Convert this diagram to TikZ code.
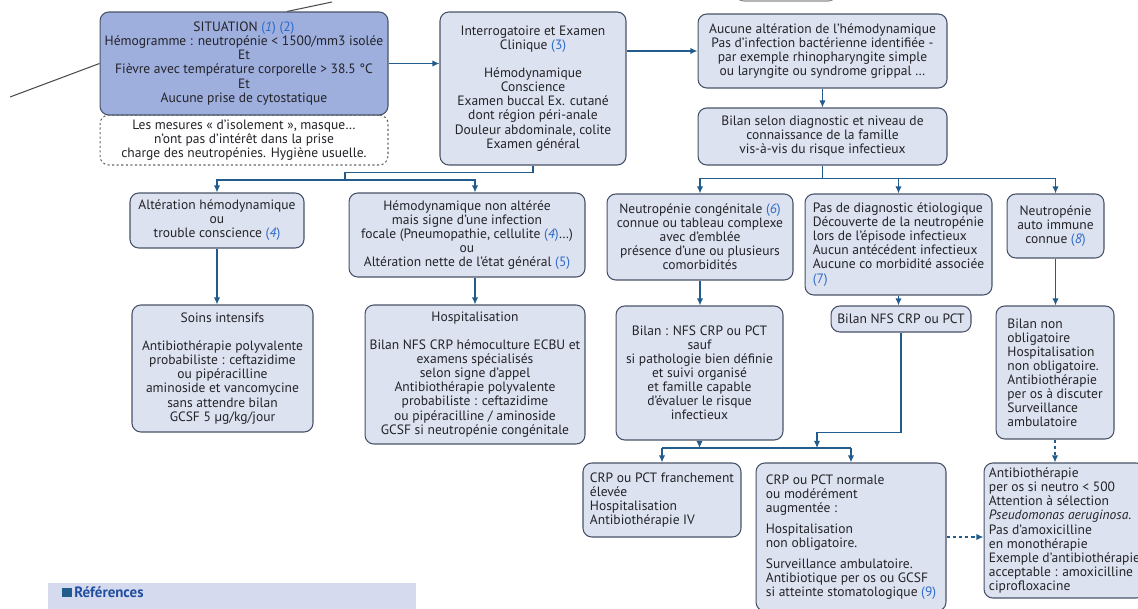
\documentclass[tikz,border=0pt]{standalone}
\usepackage{fontspec}
\setmainfont{PT Sans}
\usepackage{tikz}
\usetikzlibrary{arrows.meta,positioning}

\definecolor{boxfill}{RGB}{221,226,240}
\definecolor{sitfill}{RGB}{158,174,221}
\definecolor{boxline}{RGB}{72,82,104}
\definecolor{linkcol}{RGB}{33,92,140}
\definecolor{numblue}{RGB}{45,105,200}
\definecolor{reffill}{RGB}{214,218,238}
\definecolor{reftext}{RGB}{32,78,160}
\definecolor{textcol}{RGB}{35,35,40}

\newcommand{\refn}[1]{\textcolor{numblue}{(#1)}}
\newcommand{\refi}[1]{\textcolor{numblue}{(\textit{#1})}}
\newcommand{\boxfont}{\fontsize{7.7}{8}\selectfont}

\begin{document}
\begin{tikzpicture}[x=0.02cm, y=-0.02cm]
\tikzstyle{box} = [rectangle, draw=boxline, fill=boxfill, line width=0.6pt, rounded corners=5pt, align=center, inner sep=2pt, font=\boxfont, text=textcol];%
\tikzstyle{lbox} = [box, align=left];%
\tikzstyle{sitbox} = [box, fill=sitfill];%
\tikzstyle{notebox} = [box, fill=white, draw=black!60, dash pattern=on 1.2pt off 1.4pt];%
\tikzstyle{link} = [draw=linkcol, line width=0.8pt];%
\tikzstyle{arr} = [link, -{Latex[length=4pt,width=3.6pt]}];%
\tikzstyle{darr} = [arr, dash pattern=on 2pt off 1.5pt];%
\tikzstyle{stray} = [draw=black!70, line width=0.6pt];%

\fill[white] (0,0) rectangle (1138,608);
\useasboundingbox (0,0) rectangle (1138,608);

\node at (786,-14) [box, fill=white, draw=black!45, minimum width=2.04cm, minimum height=0.6cm] (topcut) {};
\node at (244,140) [notebox, minimum width=5.76cm, minimum height=1.00cm] (note) {Les mesures « d’isolement », masque…\\n’ont pas d’intérêt dans la prise\\charge des neutropénies. Hygiène usuelle.};
\node at (244,63.5) [sitbox, minimum width=5.76cm, minimum height=2.06cm] (sit) {SITUATION \refi{1} \refn{2}\\Hémogramme : neutropénie < 1500/mm3 isolée\\Et\\Fièvre avec température corporelle > 38.5 °C\\Et\\Aucune prise de cytostatique};
\node at (533,88.5) [box, minimum width=3.72cm, minimum height=3.06cm] (interro) {Interrogatoire et Examen\\Clinique \refn{3}\\[8pt]Hémodynamique\\Conscience\\Examen buccal Ex. cutané\\dont région péri-anale\\Douleur abdominale, colite\\Examen général};
\node at (822.5,51) [box, minimum width=4.98cm, minimum height=1.48cm] (aucune) {Aucune altération de l’hémodynamique\\Pas d’infection bactérienne identifiée -\\par exemple rhinopharyngite simple\\ou laryngite ou syndrome grippal …};
\node at (822.5,136.5) [box, minimum width=4.98cm, minimum height=1.14cm] (bilansel) {Bilan selon diagnostic et niveau de\\connaissance de la famille\\vis-à-vis du risque infectieux};

\node at (217,220.5) [box, minimum width=3.48cm, minimum height=1.10cm] (alt) {Altération hémodynamique\\ou\\trouble conscience \refi{4}};
\node at (467,235) [box, minimum width=4.72cm, minimum height=1.68cm] (hemo) {Hémodynamique non altérée\\mais signe d’une infection\\focale (Pneumopathie, cellulite \refi{4}…)\\ou\\Altération nette de l’état général \refn{5}};
\node at (222.5,368.5) [box, minimum width=3.62cm, minimum height=2.54cm] (soins) {Soins intensifs\\[8pt]Antibiothérapie polyvalente\\probabiliste : ceftazidime\\ou pipéracilline\\aminoside et vancomycine\\sans attendre bilan\\GCSF 5 µg/kg/jour};
\node at (475,374.5) [box, minimum width=4.40cm, minimum height=2.78cm] (hospit) {Hospitalisation\\[8pt]Bilan NFS CRP hémoculture ECBU et\\examens spécialisés\\selon signe d’appel\\Antibiothérapie polyvalente\\probabiliste : ceftazidime\\ou pipéracilline / aminoside\\GCSF si neutropénie congénitale};

\node at (700,237) [box, minimum width=3.72cm, minimum height=1.72cm] (congen) {Neutropénie congénitale \refi{6}\\connue ou tableau complexe\\avec d’emblée\\présence d’une ou plusieurs\\comorbidités};
\node at (898.5,244.5) [lbox, minimum width=3.74cm, minimum height=2.02cm] (pasdiag) {Pas de diagnostic étiologique\\Découverte de la neutropénie\\lors de l’épisode infectieux\\Aucun antécédent infectieux\\Aucune co morbidité associée\\\refn{7}};
\node at (1055.5,226) [box, minimum width=1.94cm, minimum height=1.28cm] (autoimm) {Neutropénie\\auto immune\\connue \refi{8}};

\node at (699.5,373) [box, minimum width=3.34cm, minimum height=2.68cm] (bilannfs1) {Bilan : NFS CRP ou PCT\\sauf\\si pathologie bien définie\\et suivi organisé\\et famille capable\\d’évaluer le risque\\infectieux};
\node at (901,319) [box, minimum width=2.80cm, minimum height=0.52cm] (bilannfs2) {Bilan NFS CRP ou PCT};
\node at (1055,372.5) [lbox, minimum width=2.36cm, minimum height=2.66cm] (bilannon) {Bilan non\\obligatoire\\Hospitalisation\\non obligatoire.\\Antibiothérapie\\per os à discuter\\Surveillance\\ambulatoire};

\node at (662,500) [lbox, minimum width=3.16cm, minimum height=1.48cm] (crpelev) {CRP ou PCT franchement\\élevée\\Hospitalisation\\Antibiothérapie IV};
\node at (851,537) [lbox, minimum width=3.80cm, minimum height=2.96cm] (crpnorm) {CRP ou PCT normale\\ou modérément\\augmentée :\\[4pt]Hospitalisation\\non obligatoire.\\[4pt]Surveillance ambulatoire.\\Antibiotique per os ou GCSF\\si atteinte stomatologique \refn{9}};
\node at (1064.5,530.5) [lbox, minimum width=3.22cm, minimum height=2.70cm] (antibio) {Antibiothérapie\\per os si neutro < 500\\Attention à sélection\\\textit{Pseudomonas aeruginosa}.\\Pas d’amoxicilline\\en monothérapie\\Exemple d’antibiothérapie\\acceptable : amoxicilline\\ciprofloxacine};

\fill[reffill] (48,583) rectangle (416,620);
\node at (56,592) [anchor=west, font=\fontsize{8.5}{9}\selectfont\bfseries, text=reftext] (refs) {\textcolor{linkcol}{\rule{5.5pt}{5.5pt}}\,Références};

\coordinate (strayL) at (10,97);
\coordinate (strayT) at (332,2);
\draw[stray] (strayL) -- (sit.west);
\draw[stray] ([xshift=0.86cm]sit.north) -- (strayT);

\path (sit.east) edge[arr] (sit.east -| interro.west);
\path (aucune.west -| interro.east) edge[arr] (aucune.west);
\path (aucune.south) edge[arr] (bilansel.north);
\draw[arr] (bilansel.south) -- ++(0,13) -| (congen.north);
\draw[arr] (bilansel.south) -- ++(0,13) -| (pasdiag.north);
\draw[arr] (bilansel.south) -- ++(0,13) -| (autoimm.north);

\coordinate (jL) at (345,180);
\draw[link] (interro.south) -- ++(0,7) -| (jL);
\draw[arr] (jL) -| (alt.north);
\draw[arr] (jL) -| (hemo.north -| hospit.north);
\path (alt.south) edge[arr] (alt.south |- soins.north);
\path (hemo.south -| hospit.north) edge[arr] (hospit.north);

\path (congen.south) edge[arr] (congen.south |- bilannfs1.north);
\path (pasdiag.south) edge[arr] (pasdiag.south |- bilannfs2.north);
\path (autoimm.south) edge[arr] (autoimm.south |- bilannon.north);

\coordinate (jB) at (817,448);
\draw[arr] (bilannfs1.south) -- (bilannfs1.south |- jB);
\draw[arr] (bilannfs2.south) -- ++(0,100) -| (jB);
\draw[link] (jB -| crpelev.north) -- (jB -| crpnorm.north);
\draw[arr] (jB -| crpelev.north) -- (crpelev.north);
\draw[arr] (jB -| crpnorm.north) -- (crpnorm.north);

\path (bilannon.south) edge[darr] (bilannon.south |- antibio.north);
\path (crpnorm.east) edge[darr] (crpnorm.east -| antibio.west);

\end{tikzpicture}
\end{document}
